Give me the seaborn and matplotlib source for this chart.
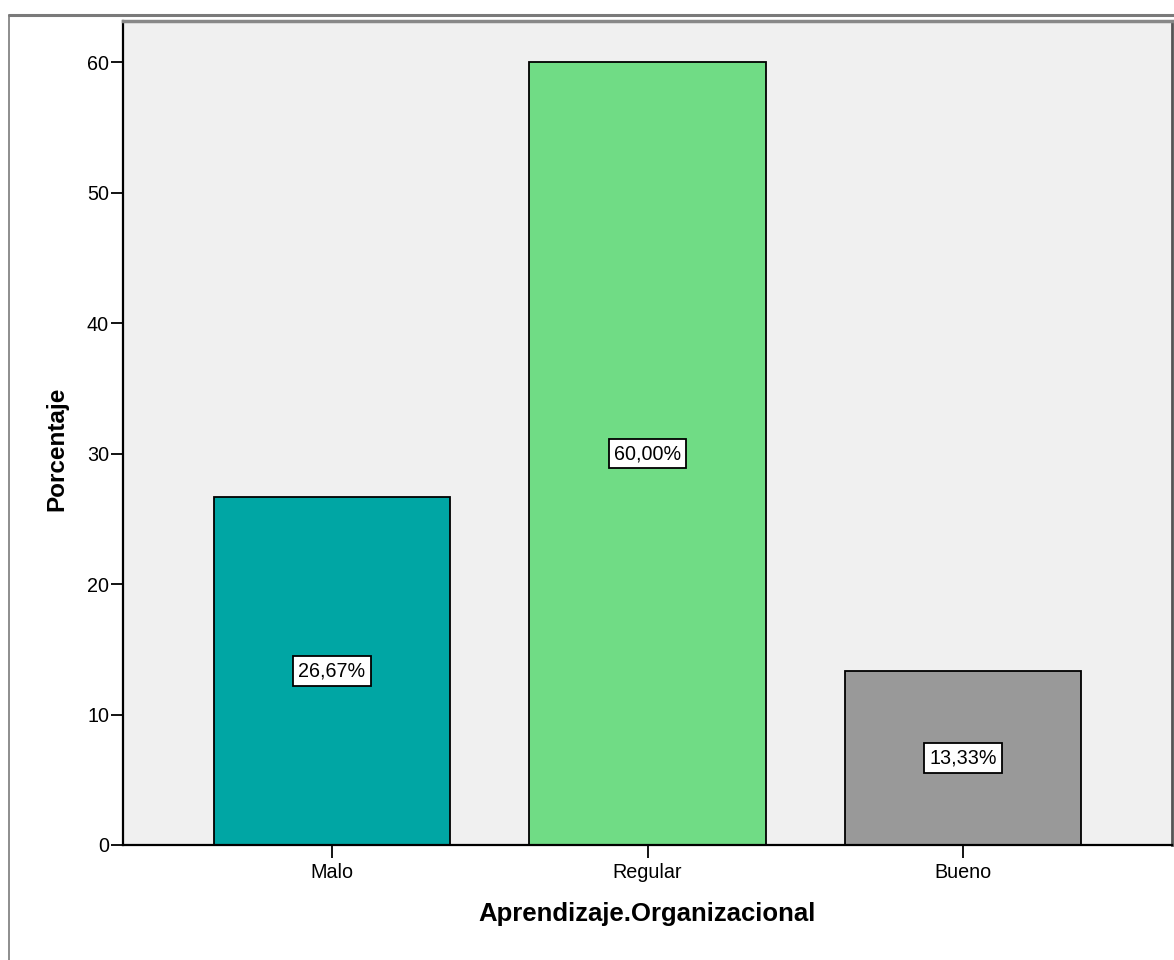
import matplotlib
matplotlib.use("Agg")
import matplotlib.pyplot as plt
from matplotlib.lines import Line2D
import seaborn as sns
import pandas as pd

# Data
categories = ["Malo", "Regular", "Bueno"]
percentages = [26.67, 60.00, 13.33]
bar_colors = ["#00A6A4", "#70DC85", "#999999"]
y_ticks = [0, 10, 20, 30, 40, 50, 60]

sns.set_theme(style="white")
plt.rcParams["font.family"] = ["Liberation Sans", "DejaVu Sans"]

df = pd.DataFrame({"Aprendizaje.Organizacional": categories, "Porcentaje": percentages})

W, H = 1174, 960
fig = plt.figure(figsize=(W / 100, H / 100), dpi=100)
fig.patch.set_facecolor("white")

# Outer frame (top and left edges)
fig.add_artist(Line2D([8.5 / W, 1.0], [1 - 14.5 / H, 1 - 14.5 / H], color="#7a7a7a", lw=2.2))
fig.add_artist(Line2D([8.5 / W, 8.5 / W], [0.0, 1 - 14.5 / H], color="#7a7a7a", lw=1.2))

left, right, top, bottom = 123, 1172, 21, 845
ax = fig.add_axes([left / W, 1 - bottom / H, (right - left) / W, (bottom - top) / H])
ax.set_facecolor("#F0F0F0")

sns.barplot(data=df, x="Aprendizaje.Organizacional", y="Porcentaje",
            hue="Aprendizaje.Organizacional", palette=bar_colors, legend=False,
            width=0.75, edgecolor="black", linewidth=1.3, saturation=1, ax=ax)

ax.set_xlim(-0.662, 2.662)
ax.set_ylim(0, 63.15)
ax.set_yticks(y_ticks)
ax.set_yticklabels([str(t) for t in y_ticks])

for i, v in enumerate(percentages):
    label = f"{v:.2f}%".replace(".", ",")
    ax.text(i, v / 2, label, ha="center", va="center", fontsize=14.2, color="black",
            bbox=dict(boxstyle="square,pad=0.27", fc="white", ec="black", lw=1.3))

ax.tick_params(axis="both", which="both", direction="out", length=9, width=1.3,
               color="black", labelsize=14.2, labelcolor="black")
ax.tick_params(axis="y", pad=1)
ax.tick_params(axis="x", pad=4)
ax.tick_params(left=True, bottom=True)

for side in ["left", "bottom"]:
    ax.spines[side].set_color("black")
    ax.spines[side].set_linewidth(1.6)
ax.spines["top"].set_color("#888888")
ax.spines["top"].set_linewidth(2.5)
ax.spines["right"].set_color("#555555")
ax.spines["right"].set_linewidth(2.0)

ax.set_xlabel("Aprendizaje.Organizacional", fontsize=18.5, fontweight="bold",
              color="black", labelpad=14)
ax.set_ylabel("Porcentaje", fontsize=17.5, fontweight="bold", color="black")
ax.yaxis.set_label_coords(-0.0525, 0.481)

fig.savefig("out.png", dpi=100)
